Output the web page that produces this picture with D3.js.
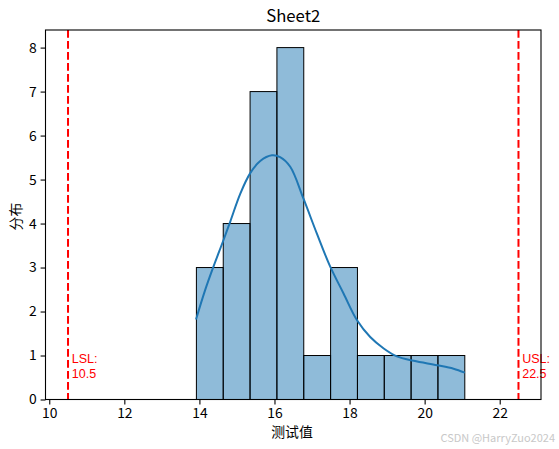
<!DOCTYPE html>
<html>
<head>
<meta charset="utf-8">
<script src="https://cdn.jsdelivr.net/npm/d3@7"></script>
<style>
  body { margin: 0; background: #fff; }
  text { font-family: "Noto Sans CJK SC", "DejaVu Sans", sans-serif; }
</style>
</head>
<body>
<svg id="chart"></svg>
<script>
// histogram bins (edges) and counts
const binEdges = [13.92, 14.635, 15.35, 16.065, 16.78, 17.495, 18.21, 18.925, 19.64, 20.355, 21.07];
const counts = [3, 4, 7, 8, 1, 3, 1, 1, 1, 1];

// kde curve (count scale)
const kdeX = [13.91, 14.15, 14.37, 14.64, 14.82, 15.09, 15.35, 15.62, 15.93, 16.15, 16.42, 16.77, 17.13, 17.47, 17.84, 18.2, 18.55, 18.91, 19.26, 19.71, 20.33, 20.77, 21.07];
const kdeY = [1.82, 2.48, 3.01, 3.62, 4.04, 4.68, 5.14, 5.42, 5.55, 5.51, 5.29, 4.57, 3.77, 3.05, 2.41, 1.80, 1.42, 1.16, 0.98, 0.88, 0.78, 0.70, 0.61];

const specNames = ["LSL", "USL"];
const specValues = [10.5, 22.5];

const xTicks = [10, 12, 14, 16, 18, 20, 22];
const yTicks = [0, 1, 2, 3, 4, 5, 6, 7, 8];

const W = 559, H = 449;
const svg = d3.select("#chart").attr("width", W).attr("height", H);

const x = d3.scaleLinear().domain([9.9, 23.1]).range([45.5, 541]);
const y = d3.scaleLinear().domain([0, 8.4]).range([399.5, 30]);

const bins = counts.map((c, i) => ({ x0: binEdges[i], x1: binEdges[i + 1], count: c }));

// bars
svg.append("g")
  .selectAll("rect")
  .data(bins)
  .enter()
  .append("rect")
  .attr("x", d => x(d.x0))
  .attr("y", d => y(d.count))
  .attr("width", d => x(d.x1) - x(d.x0))
  .attr("height", d => y(0) - y(d.count))
  .attr("fill", "#1f77b4")
  .attr("fill-opacity", 0.5)
  .attr("stroke", "#000")
  .attr("stroke-width", 1);

// kde line
const line = d3.line()
  .x(d => x(d[0]))
  .y(d => y(d[1]))
  .curve(d3.curveCatmullRom);

svg.append("path")
  .datum(kdeX.map((v, i) => [v, kdeY[i]]))
  .attr("d", line)
  .attr("fill", "none")
  .attr("stroke", "#1f77b4")
  .attr("stroke-width", 2);

// spec limit lines + labels (two lines each)
specValues.forEach((v, i) => {
  svg.append("line")
    .attr("x1", x(v)).attr("x2", x(v))
    .attr("y1", y(8.4)).attr("y2", y(0))
    .attr("stroke", "red")
    .attr("stroke-width", 2)
    .attr("stroke-dasharray", "7.7,3.3");

  [specNames[i] + ":", String(v)].forEach((s, k) => {
    svg.append("text")
      .attr("x", x(v + 0.1))
      .attr("y", y(0.82) + k * 15)
      .attr("fill", "red")
      .style("font-family", "\"Liberation Sans\", sans-serif")
      .style("font-size", "12.5px")
      .text(s);
  });
});

// axes
const xAxis = svg.append("g")
  .attr("transform", `translate(0,${y(0)})`)
  .call(d3.axisBottom(x).tickValues(xTicks).tickSize(4.9).tickPadding(4));
const yAxis = svg.append("g")
  .attr("transform", `translate(${x(9.9)},0)`)
  .call(d3.axisLeft(y).tickValues(yTicks).tickSize(4.9).tickPadding(4));

[xAxis, yAxis].forEach(a => {
  a.select(".domain").remove();
  a.selectAll("line").attr("stroke", "#000").attr("stroke-width", 1.1);
  a.selectAll("text").style("font-size", "13.9px").attr("fill", "#000")
    .style("font-family", "\"Noto Sans CJK SC\", sans-serif");
});

// frame
svg.append("rect")
  .attr("x", x(9.9)).attr("y", y(8.4))
  .attr("width", x(23.1) - x(9.9))
  .attr("height", y(0) - y(8.4))
  .attr("fill", "none")
  .attr("stroke", "#000")
  .attr("stroke-width", 1.1);

// title and labels
svg.append("text")
  .attr("x", (x(9.9) + x(23.1)) / 2)
  .attr("y", 21.5)
  .attr("text-anchor", "middle")
  .style("font-size", "16.7px")
  .text("Sheet2");

svg.append("text")
  .attr("x", 292)
  .attr("y", 437)
  .attr("text-anchor", "middle")
  .style("font-size", "13.9px")
  .text("测试值");

svg.append("text")
  .attr("transform", `translate(21,${216.5}) rotate(-90)`)
  .attr("text-anchor", "middle")
  .style("font-size", "13.9px")
  .text("分布");

// watermark
svg.append("text")
  .attr("x", 555)
  .attr("y", 442)
  .attr("text-anchor", "end")
  .attr("fill", "#c8c8c8")
  .style("font-size", "11px")
  .text("CSDN @HarryZuo2024");
</script>
</body>
</html>
